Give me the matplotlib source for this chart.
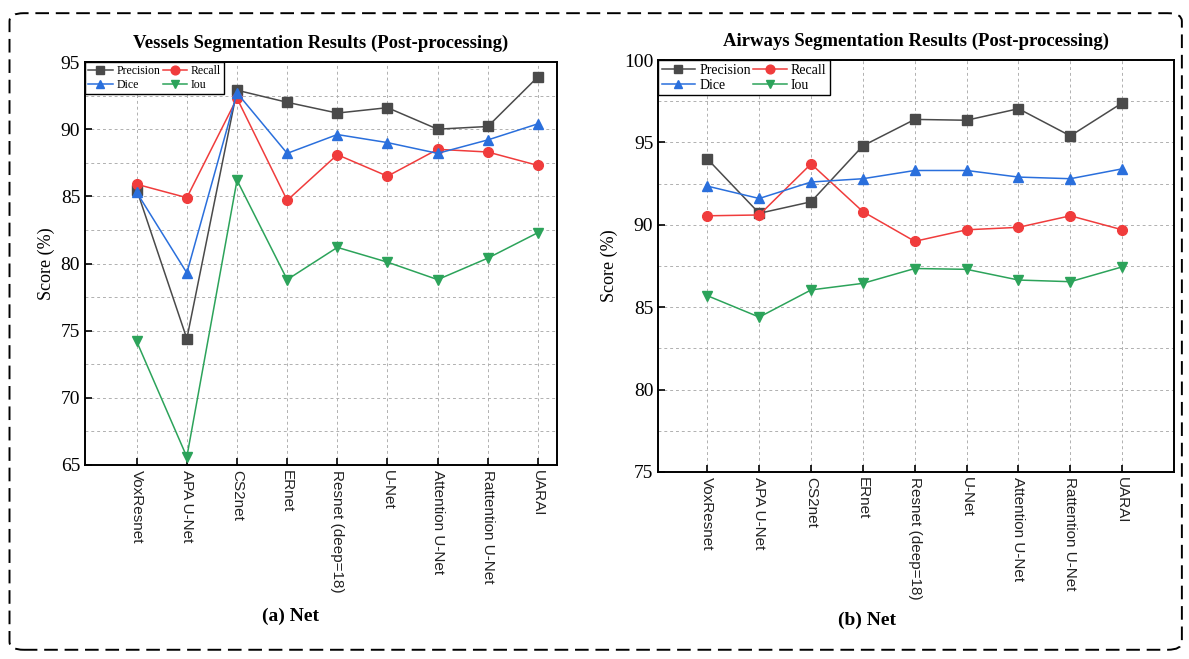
import numpy as np
import matplotlib
matplotlib.use("Agg")
import matplotlib.pyplot as plt
from matplotlib.patches import FancyBboxPatch

# Data
nets = ["VoxResnet", "APA U-Net", "CS2net", "ERnet", "Resnet (deep=18)",
        "U-Net", "Attention U-Net", "Rattention U-Net", "UARAI"]
metrics = ["Precision", "Recall", "Dice", "Iou"]

vessel_precision = [85.5, 74.4, 92.9, 92.0, 91.2, 91.6, 90.0, 90.2, 93.9]
vessel_recall = [85.9, 84.9, 92.3, 84.7, 88.1, 86.5, 88.5, 88.3, 87.3]
vessel_dice = [85.3, 79.3, 92.7, 88.2, 89.6, 89.0, 88.2, 89.2, 90.4]
vessel_iou = [74.2, 65.6, 86.2, 78.8, 81.2, 80.1, 78.8, 80.4, 82.3]

airway_precision = [94.0, 90.7, 91.4, 94.8, 96.4, 96.35, 97.05, 95.4, 97.4]
airway_recall = [90.55, 90.6, 93.7, 90.8, 89.0, 89.7, 89.85, 90.55, 89.7]
airway_dice = [92.35, 91.6, 92.6, 92.8, 93.3, 93.3, 92.9, 92.8, 93.4]
airway_iou = [85.7, 84.4, 86.05, 86.45, 87.35, 87.3, 86.65, 86.55, 87.45]

styles = {
    "Precision": dict(color="#4a4a4a", marker="s"),
    "Recall": dict(color="#f03c3c", marker="o"),
    "Dice": dict(color="#2a6fdc", marker="^"),
    "Iou": dict(color="#2ca35a", marker="v"),
}

serif = ["Liberation Serif", "DejaVu Serif"]
sans = ["Liberation Sans", "DejaVu Sans"]

fig = plt.figure(figsize=(11.89, 6.59), dpi=100)

# dashed rounded frame round the whole figure
frame = FancyBboxPatch((0.008, 0.014), 0.986, 0.966, transform=fig.transFigure,
                       boxstyle="round,pad=0,rounding_size=0.012",
                       fill=False, edgecolor="black", linewidth=1.4,
                       linestyle=(0, (7, 3.5)))
fig.patches.append(frame)


def draw(ax, series, ylim, xlim, title, xlab, xlab_pos, legsize, hlen):
    x = np.arange(len(nets))
    handles = {}
    for name, vals in zip(metrics, series):
        st = styles[name]
        handles[name], = ax.plot(x, vals, color=st["color"], marker=st["marker"],
                                 markersize=7, linewidth=1.1, label=name, zorder=3)
    ax.set_xlim(*xlim)
    ax.set_ylim(*ylim)
    ax.set_xticks(x)
    ax.set_xticklabels(nets, rotation=-90, fontsize=11, family=sans, color="#222222")
    ax.set_yticks(np.arange(ylim[0], ylim[1] + 1, 5))
    ax.set_yticks(np.arange(ylim[0], ylim[1], 2.5), minor=True)
    for lab in ax.get_yticklabels():
        lab.set_family(serif)
        lab.set_fontsize(14)
    ax.tick_params(axis="both", which="major", direction="in", length=5, width=1.2)
    ax.tick_params(axis="y", which="minor", length=0)
    ax.grid(True, which="both", linestyle=(0, (3, 3)), color="#b0b0b0", linewidth=0.7)
    for sp in ax.spines.values():
        sp.set_linewidth(1.4)
    ax.set_ylabel("Score (%)", family=serif, fontsize=13, labelpad=4)
    ax.set_title(title, family=serif, fontsize=13.5, fontweight="bold", pad=10)
    # rows: Precision / Recall, then Dice / Iou
    order = ["Precision", "Dice", "Recall", "Iou"]
    leg = ax.legend([handles[k] for k in order], order, loc="upper left", ncol=2,
                    frameon=True, fancybox=False, edgecolor="black", borderaxespad=0,
                    borderpad=0.25, handlelength=hlen, handletextpad=0.3,
                    columnspacing=0.2, labelspacing=0.15, markerscale=0.9,
                    framealpha=1, prop={"family": serif, "size": legsize})
    leg.get_frame().set_linewidth(1.0)
    fig.text(xlab_pos[0], xlab_pos[1], xlab, family=serif, fontsize=14,
             fontweight="bold", ha="center", va="center")


ax1 = fig.add_axes([0.0715, 0.2944, 0.397, 0.6115])
draw(ax1, [vessel_precision, vessel_recall, vessel_dice, vessel_iou],
     (65, 95), (-1.03, 8.38),
     "Vessels Segmentation Results (Post-processing)",
     "(a) Net", (0.244, 0.064), 8.5, 2.1)

ax2 = fig.add_axes([0.5535, 0.2838, 0.4335, 0.625])
draw(ax2, [airway_precision, airway_recall, airway_dice, airway_iou],
     (75, 100), (-0.95, 8.99),
     "Airways Segmentation Results (Post-processing)",
     "(b) Net", (0.729, 0.058), 10, 2.4)

fig.savefig("out.png", dpi=100)
